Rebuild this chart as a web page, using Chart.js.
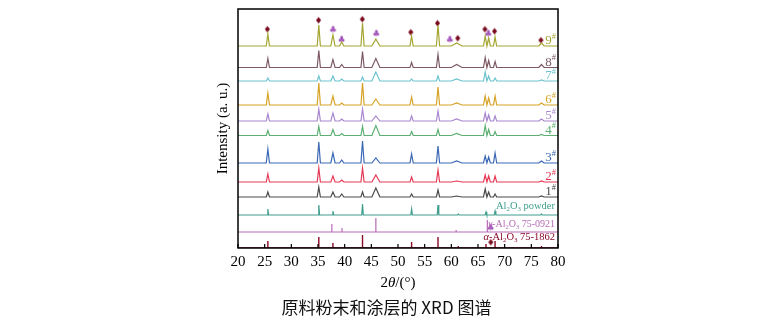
<!DOCTYPE html>
<html>
<head>
<meta charset="utf-8">
<script src="https://cdn.jsdelivr.net/npm/chart.js@4.4.0/dist/chart.umd.min.js"></script>
<style>
html, body { margin: 0; padding: 0; background: #fff; }
#wrap { position: relative; width: 773px; height: 326px; }
#caption { position: absolute; left: 0; top: 296px; width: 773px; text-align: center;
  font: 17px "Noto Sans CJK SC", sans-serif; line-height: 22px; color: #111; }
</style>
</head>
<body>
<div id="wrap">
  <canvas id="xrd" width="773" height="326"></canvas>
  <div id="caption">原料粉末和涂层的 XRD 图谱</div>
</div>
<script>
// x axis
const xTicks = [20, 25, 30, 35, 40, 45, 50, 55, 60, 65, 70, 75, 80];

// diffraction peaks of the coatings (2theta) and their half widths
const peakPos   = [25.6, 35.15, 37.8, 39.45, 43.35, 45.85, 52.55, 57.5, 61.0, 66.35, 67.0, 68.2, 76.9];
const peakHalfW = [0.3, 0.3, 0.4, 0.4, 0.3, 0.75, 0.3, 0.3, 1.0, 0.32, 0.32, 0.3, 0.5];

// peak heights per sample (a.u.)
const h9 = [12, 21, 11, 4, 23, 7, 10, 21, 3, 10, 8, 9, 3];
const h8 = [9, 17, 8, 3, 16, 9, 5, 13, 3, 10, 7, 6, 3];
const h7 = [3, 5, 5, 2, 4, 9, 2, 5, 2, 9, 5, 3, 1];
const h6 = [12, 22, 9, 2, 22, 6, 8, 18, 2, 9, 7, 9, 2];
const h5 = [7, 12, 8, 2, 12, 5, 5, 10, 2, 8, 6, 5, 2];
const h4 = [5, 9, 6, 2, 9, 10, 4, 6, 2, 10, 6, 4, 1];
const h3 = [14, 21, 10, 3, 22, 5, 9, 17, 2, 7, 6, 10, 2];
const h2 = [8, 14, 6, 2, 14, 7, 5, 12, 1, 7, 6, 6, 1];
const h1 = [5, 10, 5, 3, 5, 9, 3, 7, 1, 8, 5, 3, 1];

const sampleNames   = ['9', '8', '7', '6', '5', '4', '3', '2', '1'];
const sampleHeights = [h9, h8, h7, h6, h5, h4, h3, h2, h1];
const sampleBase    = [202, 180.5, 167, 143, 127, 112.5, 85, 66, 51];
const sampleColors  = ['#a5a533', '#7d5a63', '#6cc3cf', '#d6a327', '#a887cf', '#5cae72', '#3b68b5', '#e53a55', '#4a4a4a'];

// raw Al2O3 powder
const powderPos = [25.6, 35.15, 37.8, 43.35, 52.55, 57.5, 61.3, 66.5, 68.2, 76.9];
const powderH   = [6, 10, 4, 11, 6, 10, 1, 3, 4, 1];
const powderBase = 33;

// reference cards
const gammaPos = [37.6, 39.5, 45.85, 60.9, 66.75];
const gammaH   = [8, 4, 14, 2, 12];
const gammaBase = 16;
const alphaPos = [25.6, 35.15, 37.8, 43.35, 46.2, 52.55, 57.5, 61.3, 66.5, 68.2, 76.9];
const alphaH   = [7, 11, 5, 13, 1, 6, 11, 2, 4, 7, 2];
const alphaBase = 0;

// phase markers above 9#, last one is the key beside the card label
const diamondX = [25.5, 35.1, 43.3, 52.4, 57.4, 61.2, 66.3, 68.1, 76.8, 67.4];
const diamondY = [219, 228, 229, 216, 225, 210, 219, 217, 208, 6];
const clubX = [37.8, 39.4, 45.9, 59.7, 66.9, 67.35];
const clubY = [219, 209, 215, 209, 215, 21];

const serif = '"Liberation Serif", "Times New Roman", serif';

function peakTrace(base, pos, halfW, heights) {
    const pts = [{ x: 20, y: base }];
    pos.forEach((p, i) => {
        const w = Array.isArray(halfW) ? halfW[i] : halfW;
        pts.push({ x: p - w, y: base }, { x: p, y: base + heights[i] }, { x: p + w, y: base });
    });
    pts.push({ x: 80, y: base });
    return pts;
}

function stickTrace(base, pos, heights) {
    const pts = [{ x: 20, y: base }];
    pos.forEach((p, i) => {
        pts.push({ x: p, y: base }, { x: p, y: base + heights[i] }, { x: p, y: base });
    });
    pts.push({ x: 80, y: base });
    return pts;
}

function glyph(ch, color, size) {
    const c = document.createElement('canvas');
    c.width = size; c.height = size;
    const g = c.getContext('2d');
    g.fillStyle = color;
    g.font = size + 'px "DejaVu Sans"';
    g.textAlign = 'center';
    g.textBaseline = 'middle';
    g.fillText(ch, size / 2, size / 2 + 1);
    return c;
}

const datasets = [];
sampleNames.forEach((n, i) => {
    datasets.push({
        data: peakTrace(sampleBase[i], peakPos, peakHalfW, sampleHeights[i]),
        borderColor: sampleColors[i], borderWidth: 1.2
    });
});
datasets.push({ data: peakTrace(powderBase, powderPos, 0.15, powderH), borderColor: '#3f9e8c', borderWidth: 1.2 });
datasets.push({ data: stickTrace(gammaBase, gammaPos, gammaH), borderColor: '#b76bb5', borderWidth: 1.2 });
datasets.push({ data: stickTrace(alphaBase, alphaPos, alphaH), borderColor: '#8a0a2a', borderWidth: 1.4 });
datasets.push({
    type: 'scatter', data: diamondX.map((x, i) => ({ x: x, y: diamondY[i] })),
    pointStyle: glyph('\u2666', '#7a0a1e', 9), pointRadius: 4
});
datasets.push({
    type: 'scatter', data: clubX.map((x, i) => ({ x: x, y: clubY[i] })),
    pointStyle: glyph('\u2663', '#a050b8', 9), pointRadius: 4
});

// draw text runs with sub/superscripts
function runs(ctx, parts, x, y, size, color, align) {
    ctx.fillStyle = color;
    ctx.textBaseline = 'alphabetic';
    ctx.textAlign = 'left';
    const fontOf = p => (p.italic ? 'italic ' : '') + (p.sub || p.sup ? size * 0.65 : size) + 'px ' + serif;
    let total = 0;
    parts.forEach(p => { ctx.font = fontOf(p); total += ctx.measureText(p.t).width; });
    let cx = align === 'center' ? x - total / 2 : x - total;
    parts.forEach(p => {
        ctx.font = fontOf(p);
        const dy = p.sub ? size * 0.2 : (p.sup ? -size * 0.4 : 0);
        ctx.fillText(p.t, cx, y + dy);
        cx += ctx.measureText(p.t).width;
    });
}

const decor = {
    id: 'decor',
    afterDraw(chart) {
        const { ctx, chartArea: a, scales } = chart;
        const xs = scales.x, ys = scales.y;
        ctx.save();
        // frame
        ctx.strokeStyle = '#000';
        ctx.lineWidth = 1.5;
        ctx.strokeRect(a.left, a.top, a.right - a.left, a.bottom - a.top);
        // inward ticks
        ctx.lineWidth = 1.2;
        ctx.beginPath();
        xTicks.forEach(v => {
            const px = xs.getPixelForValue(v);
            ctx.moveTo(px, a.bottom);
            ctx.lineTo(px, a.bottom - 4);
        });
        ctx.stroke();
        // sample labels
        sampleNames.forEach((n, i) => {
            const y = ys.getPixelForValue(sampleBase[i]) - 2;
            runs(ctx, [{ t: n }, { t: '#', sup: true }], a.right - 2, y, 13, sampleColors[i]);
        });
        // reference labels
        runs(ctx, [{ t: 'Al' }, { t: '2', sub: true }, { t: 'O' }, { t: '3', sub: true }, { t: ' powder' }],
            a.right - 3, ys.getPixelForValue(39), 10.5, '#3f9e8c');
        runs(ctx, [{ t: '\u03b3', italic: true }, { t: '-Al' }, { t: '2', sub: true }, { t: 'O' }, { t: '3', sub: true }, { t: ' 75-0921' }],
            a.right - 3, ys.getPixelForValue(21), 10, '#b76bb5');
        runs(ctx, [{ t: '\u03b1', italic: true }, { t: '-Al' }, { t: '2', sub: true }, { t: 'O' }, { t: '3', sub: true }, { t: ' 75-1862' }],
            a.right - 3, ys.getPixelForValue(8), 10.5, '#8a0a2a');
        // x title
        runs(ctx, [{ t: '2' }, { t: '\u03b8', italic: true }, { t: '/(\u00b0)' }],
            (a.left + a.right) / 2, 287, 15, '#000', 'center');
        ctx.restore();
    }
};

new Chart(document.getElementById('xrd'), {
    type: 'line',
    data: { datasets: datasets },
    options: {
        responsive: false,
        animation: false,
        layout: { padding: { left: 210, right: 215, top: 9, bottom: 48 } },
        elements: { point: { radius: 0 }, line: { tension: 0 } },
        plugins: { legend: { display: false }, tooltip: { enabled: false } },
        scales: {
            x: {
                type: 'linear', min: 20, max: 80,
                afterBuildTicks: s => { s.ticks = xTicks.map(v => ({ value: v })); },
                afterFit: s => { s.height = 30; },
                grid: { display: false, drawTicks: false },
                border: { display: false },
                ticks: { padding: 5, color: '#000', font: { family: serif, size: 15 } }
            },
            y: {
                type: 'linear', min: 0, max: 239,
                afterFit: s => { s.width = 28; },
                grid: { display: false, drawTicks: false },
                border: { display: false },
                ticks: { display: false },
                title: { display: true, text: 'Intensity (a. u.)', color: '#000', font: { family: serif, size: 15 } }
            }
        }
    },
    plugins: [decor]
});
</script>
</body>
</html>
